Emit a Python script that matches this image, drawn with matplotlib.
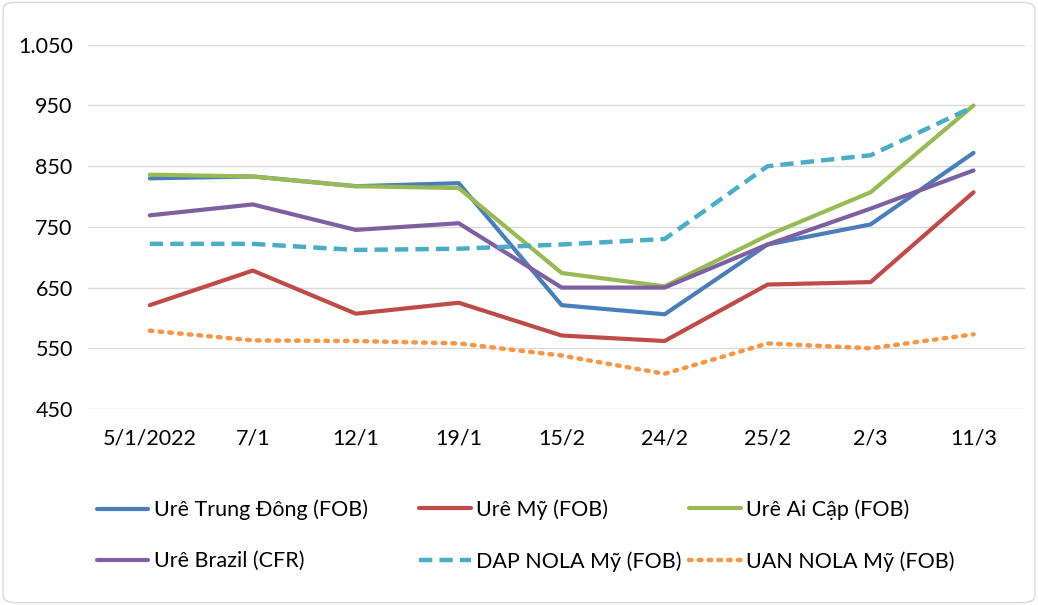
import matplotlib.pyplot as plt
from matplotlib.patches import FancyBboxPatch
from matplotlib.ticker import FuncFormatter

plt.rcParams['font.family'] = ['Lato', 'DejaVu Sans']

dates = ["5/1/2022", "7/1", "12/1", "19/1", "15/2", "24/2", "25/2", "2/3", "11/3"]

ure_trung_dong = [830, 833, 817, 822, 621, 606, 721, 754, 872]
ure_my = [621, 678, 607, 625, 571, 562, 655, 659, 807]
ure_ai_cap = [836, 833, 817, 814, 674, 652, 736, 807, 950]
ure_brazil = [769, 787, 745, 756, 650, 650, 721, 780, 843]
dap_nola = [722, 722, 712, 714, 721, 730, 850, 868, 948]
uan_nola = [579, 563, 562, 558, 538, 508, 558, 550, 573]

series = [
    ("Urê Trung Đông (FOB)", ure_trung_dong, "#4A7EBB", "-"),
    ("Urê Mỹ (FOB)", ure_my, "#BE4B48", "-"),
    ("Urê Ai Cập (FOB)", ure_ai_cap, "#98B954", "-"),
    ("Urê Brazil (CFR)", ure_brazil, "#7D60A0", "-"),
    ("DAP NOLA Mỹ (FOB)", dap_nola, "#4BACC6", (0, (3, 1.6))),
    ("UAN NOLA Mỹ (FOB)", uan_nola, "#F79646", (0, (0.6, 1.6))),
]

fig = plt.figure(figsize=(10.38, 6.05), dpi=100)
ax = fig.add_axes([0.0848, 0.324, 0.9027, 0.602])

x = range(len(dates))
for name, vals, color, ls in series:
    lw = 3 if ls == "-" else 3.2
    ax.plot(x, vals, color=color, linestyle=ls, linewidth=lw, label=name,
            solid_capstyle="round", dash_capstyle="round" if "UAN" in name else "butt")

ax.set_xlim(-0.6, 8.5)
ax.set_ylim(450, 1050)
ax.set_yticks(range(450, 1051, 100))
ax.yaxis.set_major_formatter(FuncFormatter(lambda v, p: f"{int(v):,}".replace(",", ".")))
ax.set_xticks(list(x))
ax.set_xticklabels(dates)
ax.tick_params(length=0, labelsize=15.5, colors="#000000")
ax.tick_params(axis="x", pad=14)
ax.tick_params(axis="y", pad=11)
ax.grid(axis="y", color="#D9D9D9", linewidth=1)
ax.set_axisbelow(True)
for s in ax.spines.values():
    s.set_visible(False)

# legend: three columns placed separately, two rows each
handles, labels = ax.get_legend_handles_labels()
columns = [(0, 3, 0.093), (1, 4, 0.404), (2, 5, 0.664)]
for i, j, xpos in columns:
    leg = fig.legend([handles[i], handles[j]], [labels[i], labels[j]],
                     loc="center left", bbox_to_anchor=(xpos, 0.115), frameon=False,
                     fontsize=15.5, handlelength=2.4, handletextpad=0.25,
                     labelspacing=1.45, borderpad=0, borderaxespad=0)

border = FancyBboxPatch((0.003, 0.004), 0.994, 0.992, boxstyle="round,pad=0,rounding_size=0.012",
                        transform=fig.transFigure, fill=False, edgecolor="#D9D9D9", linewidth=1)
fig.patches.append(border)

fig.savefig("out.png", dpi=100)
